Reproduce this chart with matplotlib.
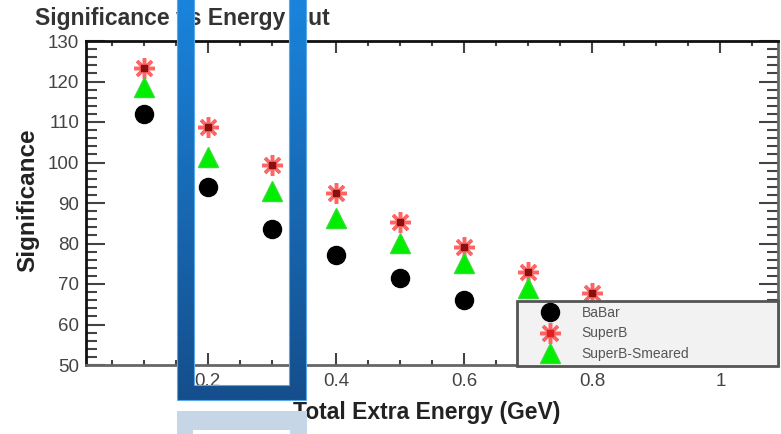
import numpy as np
import matplotlib
matplotlib.use('Agg')
import matplotlib.pyplot as plt
from matplotlib.lines import Line2D
from matplotlib.path import Path
from matplotlib.patches import PathPatch, Rectangle
from matplotlib.ticker import MultipleLocator, FixedLocator, FixedFormatter

plt.rcParams['font.family'] = ['Liberation Sans', 'DejaVu Sans']

# energy cuts (GeV) and significance values
cut_babar = [0.1, 0.2, 0.3, 0.4, 0.5, 0.6]
sig_babar = [112.0, 93.9, 83.6, 77.2, 71.4, 66.0]

cut_superb = [0.1, 0.2, 0.3, 0.4, 0.5, 0.6, 0.7, 0.8]
sig_superb = [123.3, 108.7, 99.4, 92.4, 85.4, 79.2, 73.0, 67.7]

cut_smeared = [0.1, 0.2, 0.3, 0.4, 0.5, 0.6, 0.7]
sig_smeared = [118.7, 101.4, 93.0, 86.3, 80.1, 75.1, 69.0]

series_names = ['BaBar', 'SuperB', 'SuperB-Smeared']
x_tick_values = [0.2, 0.4, 0.6, 0.8, 1.0]
x_tick_labels = ['0.2', '0.4', '0.6', '0.8', '1']
y_tick_values = [50, 60, 70, 80, 90, 100, 110, 120, 130]

W, H = 781, 434
fig = plt.figure(figsize=(W / 100, H / 100), dpi=100)
ax = fig.add_axes([86 / W, 1 - 365 / H, 692 / W, 324 / H])

# markers
ax.plot(cut_babar, sig_babar, ls='none', marker='o', ms=13, color='black', zorder=3)
ax.plot(cut_superb, sig_superb, ls='none', marker=(8, 2, 0), ms=15, mew=2.5,
        color='#ff4a4a', alpha=0.85, zorder=4)
ax.plot(cut_superb, sig_superb, ls='none', marker='s', ms=5, color='#8a1010', zorder=4)
ax.plot(cut_smeared, sig_smeared, ls='none', marker='^', ms=15, color='#00ee00',
        mec='#33dd33', zorder=5)

ax.set_xlim(0.01, 1.09)
ax.set_ylim(50, 130)

ax.xaxis.set_major_locator(FixedLocator(x_tick_values))
ax.xaxis.set_major_formatter(FixedFormatter(x_tick_labels))
ax.xaxis.set_minor_locator(MultipleLocator(0.05))
ax.yaxis.set_major_locator(FixedLocator(y_tick_values))
ax.yaxis.set_minor_locator(MultipleLocator(2))

ax.tick_params(axis='both', which='both', direction='in', top=True, right=True,
               color='#444444', width=1.5, labelsize=13.5)
ax.tick_params(axis='x', which='major', length=8.5, pad=6, labelcolor='#444444')
ax.tick_params(axis='x', which='minor', length=3.6)
ax.tick_params(axis='y', which='major', length=14, pad=5, labelcolor='#444444')
ax.tick_params(axis='y', which='minor', length=8)

for side in ['top', 'left']:
    ax.spines[side].set_color('#111111')
    ax.spines[side].set_linewidth(2)
for side in ['bottom', 'right']:
    ax.spines[side].set_color('#666666')
    ax.spines[side].set_linewidth(2)

ax.set_xlabel('Total Extra Energy (GeV)', fontsize=16.5, fontweight='bold',
              color='#222222', va='center')
ax.xaxis.set_label_coords((427 - 86) / 692, -(413 - 365) / 324)
ax.set_ylabel('Significance', fontsize=17.5, fontweight='bold', color='#222222',
              va='center')
ax.yaxis.set_label_coords((28 - 86) / 692, (365 - 200) / 324)

fig.text(35 / W, 1 - 18 / H, 'Significance vs Energy Cut', fontsize=16.5,
         fontweight='bold', color='#333333', ha='left', va='center')

# legend
h_babar = Line2D([], [], ls='none', marker='o', ms=13, color='black')
h_sb1 = Line2D([], [], ls='none', marker=(8, 2, 0), ms=15, mew=2.5, color='#ff4a4a', alpha=0.85)
h_sb2 = Line2D([], [], ls='none', marker='s', ms=5, color='#e02020')
h_sm = Line2D([], [], ls='none', marker='^', ms=15, color='#00ee00', mec='#33dd33')
leg = ax.legend([h_babar, (h_sb1, h_sb2), h_sm], series_names,
                loc='center', mode='expand', borderaxespad=0,
                bbox_to_anchor=(517 / W, 1 - 367 / H, 261 / W, 67 / H),
                bbox_transform=fig.transFigure, fontsize=10, labelcolor='#555555',
                fancybox=False, framealpha=1, facecolor='#f2f2f2', edgecolor='#555555',
                borderpad=0.35, labelspacing=0.45, handlelength=4, handletextpad=0.3)
leg.get_frame().set_linewidth(2)
leg.set_zorder(10)

# blue highlight frame drawn over the figure
ov = fig.add_axes([0, 0, 1, 1], zorder=20)
ov.set_xlim(0, W)
ov.set_ylim(H, 0)
ov.axis('off')
top_c = np.array([26, 132, 220]) / 255
bot_c = np.array([21, 78, 140]) / 255
t = np.linspace(0, 1, 256)[:, None, None]
grad = (1 - t) * top_c + t * bot_c
grad = np.repeat(grad, 2, axis=1)
im = ov.imshow(grad, extent=(177, 306, 400, -2), aspect='auto', interpolation='bilinear')
verts = [(177, -5), (306, -5), (306, 400), (177, 400), (0, 0),
         (194, -5), (194, 385), (289, 385), (289, -5), (0, 0)]
codes = [Path.MOVETO, Path.LINETO, Path.LINETO, Path.LINETO, Path.CLOSEPOLY] * 2
frame = PathPatch(Path(verts, codes), transform=ov.transData, facecolor='none',
                  edgecolor='#5aa8ec', lw=0.8)
ov.add_patch(frame)
im.set_clip_path(frame)
ov.set_xlim(0, W)
ov.set_ylim(H, 0)

ov.add_patch(Rectangle((177, 411), 130, 30, facecolor='#c6d6e6', edgecolor='none'))
ov.add_patch(Rectangle((193, 430), 97, 10, facecolor='white', edgecolor='none'))

fig.savefig('out.png', dpi=100)
